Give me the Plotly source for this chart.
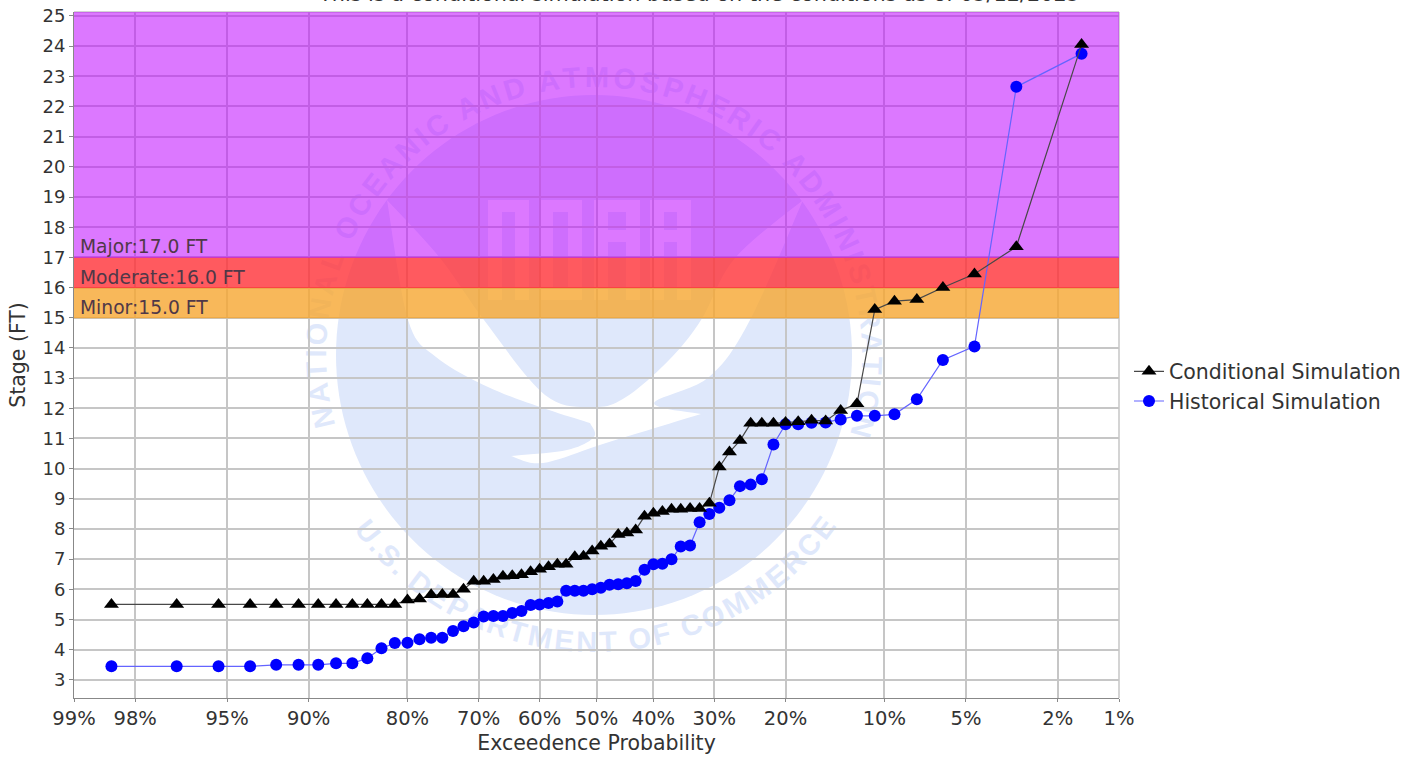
import math
from statistics import NormalDist
import plotly.graph_objects as go

exceedance_pct = [98.46, 96.92, 95.38, 93.85, 92.31, 90.77, 89.23, 87.69, 86.15, 84.62, 83.08, 81.54, 80.0, 78.46, 76.92, 75.38, 73.85, 72.31, 70.77, 69.23, 67.69, 66.15, 64.62, 63.08, 61.54, 60.0, 58.46, 56.92, 55.38, 53.85, 52.31, 50.77, 49.23, 47.69, 46.15, 44.62, 43.08, 41.54, 40.0, 38.46, 36.92, 35.38, 33.85, 32.31, 30.77, 29.23, 27.69, 26.15, 24.62, 23.08, 21.54, 20.0, 18.46, 16.92, 15.38, 13.85, 12.31, 10.77, 9.23, 7.69, 6.15, 4.62, 3.08, 1.54]
conditional_ft = [5.5, 5.5, 5.5, 5.5, 5.5, 5.5, 5.5, 5.5, 5.5, 5.5, 5.5, 5.5, 5.65, 5.68, 5.82, 5.83, 5.83, 6.0, 6.27, 6.27, 6.33, 6.43, 6.45, 6.48, 6.58, 6.67, 6.75, 6.83, 6.83, 7.08, 7.1, 7.27, 7.43, 7.5, 7.82, 7.87, 7.97, 8.42, 8.52, 8.58, 8.65, 8.65, 8.68, 8.68, 8.85, 10.05, 10.55, 10.93, 11.5, 11.5, 11.5, 11.53, 11.55, 11.6, 11.58, 11.93, 12.15, 15.27, 15.55, 15.6, 16.0, 16.45, 17.35, 24.05]
historical_ft = [3.45, 3.45, 3.45, 3.45, 3.5, 3.5, 3.5, 3.55, 3.55, 3.72, 4.05, 4.22, 4.23, 4.35, 4.4, 4.4, 4.62, 4.78, 4.9, 5.1, 5.12, 5.12, 5.22, 5.28, 5.48, 5.5, 5.55, 5.6, 5.95, 5.95, 5.95, 6.0, 6.05, 6.15, 6.17, 6.2, 6.28, 6.65, 6.83, 6.85, 7.0, 7.42, 7.45, 8.22, 8.5, 8.7, 8.95, 9.42, 9.47, 9.65, 10.8, 11.47, 11.47, 11.52, 11.53, 11.63, 11.75, 11.75, 11.8, 12.3, 13.6, 14.05, 22.65, 23.75]
x_tick_pct = [99, 98, 95, 90, 80, 70, 60, 50, 40, 30, 20, 10, 5, 2, 1]
y_ticks = list(range(3, 26))
flood_levels = [("Minor", 15.0, 16.0, "rgba(246,166,49,0.8)"),
                ("Moderate", 16.0, 17.0, "rgba(255,49,55,0.8)"),
                ("Major", 17.0, 25.13, "rgba(191,10,255,0.55)")]
title_text = "This is a conditional simulation based on the conditions as of 05/12/2025"

W, H = 1421, 762
L, R, T, B = 74, 1119, 12, 698
FONT = "DejaVu Sans"
TXT = "#333333"
WM = "#dfe8fb"
GRID = "#c6c6c6"
nd = NormalDist()


def probit(p):
    return -nd.inv_cdf(p / 100.0)


def px(x):
    return (x - L) / (R - L)


def py(y):
    return (B - y) / (B - T)


fig = go.Figure()
xs = [probit(p) for p in exceedance_pct]
fig.add_trace(go.Scatter(x=xs, y=historical_ft, mode="lines+markers", name="Historical Simulation",
                         line=dict(color="#6464ff", width=1.2),
                         marker=dict(symbol="circle", color="#0000ff", size=12)))
fig.add_trace(go.Scatter(x=xs, y=conditional_ft, mode="lines+markers", name="Conditional Simulation",
                         line=dict(color="#484848", width=1.2),
                         marker=dict(symbol="triangle-up", color="black", size=13)))

shapes = []
annots = []


def path(points):
    return "M " + " L ".join(f"{px(a):.5f},{py(b):.5f}" for a, b in points) + " Z"


def arc(cx, cy, rx, ry, a0, a1, n=160):
    return [(cx + rx * math.cos(math.radians(a0 + (a1 - a0) * i / n)),
             cy + ry * math.sin(math.radians(a0 + (a1 - a0) * i / n))) for i in range(n + 1)]


def smooth(pts, n=10):
    out = []
    P = [pts[0]] + pts + [pts[-1]]
    for i in range(1, len(P) - 2):
        p0, p1, p2, p3 = P[i - 1], P[i], P[i + 1], P[i + 2]
        for k in range(n):
            t = k / n
            out.append(tuple(0.5 * (2 * p1[j] + (p2[j] - p0[j]) * t + (2 * p0[j] - 5 * p1[j] + 4 * p2[j] - p3[j]) * t * t
                             + (3 * p1[j] - p0[j] - 3 * p2[j] + p3[j]) * t ** 3) for j in (0, 1)))
    out.append(pts[-1])
    return out


def wm_shape(points, color=WM):
    shapes.append(dict(type="path", xref="paper", yref="paper", path=path(points), fillcolor=color,
                       line=dict(width=0), layer="below"))


CX, CY, RX, RY = 594, 355, 258, 260
wm_shape(arc(CX, CY, RX, RY, 0, 360))
wm_shape(smooth([(387, 200), (408, 320), (436, 357), (488, 387), (543, 408), (590, 423)])
         + smooth([(590, 423), (594, 437), (567, 450), (511, 456)])
         + smooth([(511, 456), (543, 463), (606, 443), (701, 414)])
         + smooth([(701, 414), (654, 403), (709, 377), (750, 320), (803, 200)])
         + smooth([(803, 200), (735, 258), (701, 320), (669, 360), (626, 397), (594, 407), (545, 395), (484, 320), (440, 258), (387, 200)]),
         "white")


def rect(xa, xb, ya, yb, color):
    shapes.append(dict(type="rect", xref="paper", yref="paper", x0=px(xa), x1=px(xb), y0=py(yb), y1=py(ya),
                       fillcolor=color, line=dict(width=0), layer="below"))


for xa, xb, kind in [(488, 529, "N"), (539, 582, "O"), (594, 640, "A"), (650, 691, "A")]:
    rect(xa, xb, 200, 300, "white")
    m0, m1 = xa + 14, xb - 14
    if kind == "A":
        rect(m0, m1, 212, 230, WM)
        rect(m0, m1, 242, 300, WM)
    elif kind == "O":
        rect(m0, m1, 212, 288, WM)
    else:
        rect(m0, m1, 212, 300, WM)

CHAR_W = {".": 0.45, " ": 0.45, "I": 0.5, "M": 1.2, "F": 0.9, "T": 0.9, "N": 1.05, "O": 1.1, "C": 1.05, "D": 1.05, "U": 1.0}


def arc_text(text, r, a_start, a_end, flip=False):
    w = [CHAR_W.get(c, 1.0) for c in text]
    total = sum(w) - w[0] / 2 - w[-1] / 2
    pos = 0.0
    for i, ch in enumerate(text):
        if i:
            pos += (w[i - 1] + w[i]) / 2
        if ch == " ":
            continue
        a = a_start + (a_end - a_start) * pos / total
        rad = math.radians(a)
        x = CX + r * math.sin(rad)
        y = CY - r * math.cos(rad)
        rot = a - 180 if flip else a
        shapes.append(dict(type="rect", xref="paper", yref="paper",
                           x0=px(x - 10), x1=px(x + 10), y0=py(y + 10), y1=py(y - 10),
                           fillcolor="rgba(0,0,0,0)", line=dict(width=0), layer="below",
                           label=dict(text=f"<b>{ch}</b>", textangle=rot, textposition="middle center",
                                      font=dict(family="Liberation Sans", size=29, color=WM))))


arc_text("NATIONAL OCEANIC AND ATMOSPHERIC ADMINISTRATION", 281, -103, 105)
arc_text("U.S. DEPARTMENT OF COMMERCE", 284, 232, 127, flip=True)

for name, lo, hi, col in flood_levels:
    shapes.append(dict(type="rect", xref="x", yref="y", x0=probit(99), x1=probit(1), y0=lo, y1=hi,
                       fillcolor=col, line=dict(width=0), layer="between"))
    shapes.append(dict(type="line", xref="x", yref="y", x0=probit(99), x1=probit(1), y0=lo, y1=lo,
                       line=dict(color=col, width=1), layer="between"))
    annots.append(dict(x=px(80), y=lo, xref="paper", yref="y", xanchor="left", yanchor="bottom", yshift=-2, xshift=-2,
                       text=f"{name}:{lo:.1f} FT", showarrow=False,
                       font=dict(family=FONT, size=18.7, color="#503848")))

for kw in (dict(x0=1, x1=1, y0=0, y1=1), dict(x0=0, x1=1, y0=1, y1=1)):
    shapes.append(dict(type="line", xref="paper", yref="paper", line=dict(color=GRID, width=1.5), layer="between", **kw))

annots.append(dict(x=px(699), y=py(-6), xref="paper", yref="paper", yanchor="middle", xanchor="center",
                   text=title_text, showarrow=False, font=dict(family=FONT, size=20.8, color=TXT)))

fig.update_layout(
    width=W, height=H, autosize=False,
    margin=dict(l=L, r=W - R, t=T, b=H - B, pad=0, autoexpand=False),
    paper_bgcolor="white", plot_bgcolor="rgba(0,0,0,0)",
    font=dict(family=FONT, size=18, color=TXT),
    shapes=shapes, annotations=annots,
    legend=dict(x=px(1129), y=py(351.5), xanchor="left", yanchor="top", font=dict(family=FONT, size=20.5, color=TXT),
                bgcolor="rgba(0,0,0,0)", traceorder="reversed", itemwidth=30, tracegroupgap=0),
    xaxis=dict(range=[probit(99), probit(1)], tickmode="array",
               tickvals=[probit(p) for p in x_tick_pct], ticktext=[f"{p}%" for p in x_tick_pct],
               tickfont=dict(family=FONT, size=19.5, color=TXT),
               showgrid=True, gridcolor=GRID, gridwidth=1.7, zeroline=False, showline=True, linecolor="#888888",
               ticks="outside", ticklen=3, tickcolor="#888888", automargin=False,
               title=dict(text="Exceedence Probability", standoff=6, font=dict(family=FONT, size=20.5, color=TXT))),
    yaxis=dict(range=[2.4, 25.13], tickmode="array", tickvals=y_ticks,
               ticktext=[str(v) for v in y_ticks], tickfont=dict(family=FONT, size=18, color=TXT),
               showgrid=True, gridcolor=GRID, gridwidth=1.7, zeroline=False, showline=True, linecolor="#888888",
               ticks="outside", ticklen=4, tickcolor="#888888", automargin=True,
               title=dict(text="Stage (FT)", standoff=11, font=dict(family=FONT, size=20.5, color=TXT))),
)
fig.write_html("out.html", config=dict(displayModeBar=False),
               post_script="document.body.style.margin='0';document.body.style.overflow='hidden';")
